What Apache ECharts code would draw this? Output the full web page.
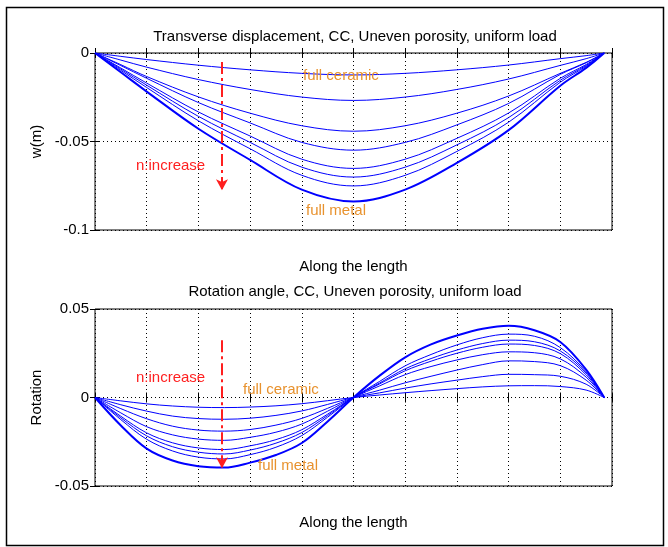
<!DOCTYPE html>
<html>
<head>
<meta charset="utf-8">
<script src="https://cdn.jsdelivr.net/npm/echarts@6/dist/echarts.min.js"></script>
<style>
  html, body { margin: 0; padding: 0; background: #fff; }
  #main { width: 668px; height: 547px; }
</style>
</head>
<body>
<div id="main"></div>
<script>
// transverse displacement w(m), 8 curves from full ceramic (w1) to full metal (w8)
const xW = [0, 0.05, 0.1, 0.2, 0.3, 0.4, 0.5, 0.6, 0.7, 0.8, 0.9, 0.95, 0.985];
const w1 = [0, -0.0019, -0.0037, -0.0069, -0.0095, -0.0115, -0.0124, -0.0115, -0.0095, -0.0068, -0.0032, -0.0015, 0];
const w2 = [0, -0.0040, -0.0080, -0.0150, -0.0206, -0.0249, -0.0268, -0.0249, -0.0206, -0.0147, -0.0070, -0.0032, 0];
const w3 = [0, -0.0066, -0.0133, -0.0248, -0.0340, -0.0411, -0.0442, -0.0411, -0.0340, -0.0243, -0.0115, -0.0053, 0];
const w4 = [0, -0.0071, -0.0143, -0.0280, -0.0395, -0.0505, -0.0549, -0.0505, -0.0406, -0.0285, -0.0121, -0.0055, 0];
const w5 = [0, -0.0085, -0.0170, -0.0333, -0.0469, -0.0600, -0.0652, -0.0600, -0.0482, -0.0339, -0.0143, -0.0065, 0];
const w6 = [0, -0.0091, -0.0182, -0.0358, -0.0505, -0.0645, -0.0701, -0.0645, -0.0519, -0.0365, -0.0154, -0.0070, 0];
const w7 = [0, -0.0098, -0.0195, -0.0383, -0.0541, -0.0691, -0.0751, -0.0691, -0.0556, -0.0391, -0.0165, -0.0075, 0];
const w8 = [0, -0.0109, -0.0218, -0.0428, -0.0604, -0.0772, -0.0839, -0.0772, -0.0621, -0.0436, -0.0185, -0.0084, 0];

// rotation angle, same 8 curves
const xR = [0, 0.05, 0.1, 0.15, 0.2, 0.25, 0.3, 0.35, 0.4, 0.45, 0.5,
            0.55, 0.6, 0.65, 0.7, 0.75, 0.8, 0.85, 0.9, 0.95, 0.985];
const r1 = [0, -0.0019, -0.0036, -0.0048, -0.0055, -0.0057, -0.0054, -0.0047, -0.0035, -0.0018, 0,
            0.0014, 0.0027, 0.0039, 0.0050, 0.0060, 0.0066, 0.0067, 0.0062, 0.0042, 0];
const r2 = [0, -0.0041, -0.0077, -0.0105, -0.0119, -0.0123, -0.0117, -0.0101, -0.0076, -0.0039, 0,
            0.0026, 0.0053, 0.0077, 0.0098, 0.0118, 0.0131, 0.0129, 0.0120, 0.0075, 0];
const r3 = [0, -0.0063, -0.0120, -0.0162, -0.0184, -0.0190, -0.0181, -0.0156, -0.0118, -0.0061, 0,
            0.0041, 0.0083, 0.0120, 0.0155, 0.0186, 0.0207, 0.0203, 0.0180, 0.0098, 0];
const r4 = [0, -0.0087, -0.0165, -0.0211, -0.0235, -0.0242, -0.0225, -0.0196, -0.0150, -0.0077, 0,
            0.0065, 0.0129, 0.0175, 0.0212, 0.0242, 0.0258, 0.0253, 0.0218, 0.0115, 0];
const r5 = [0, -0.0106, -0.0200, -0.0256, -0.0285, -0.0294, -0.0273, -0.0238, -0.0182, -0.0094, 0,
            0.0076, 0.0151, 0.0205, 0.0250, 0.0284, 0.0302, 0.0294, 0.0248, 0.0128, 0];
const r6 = [0, -0.0115, -0.0217, -0.0278, -0.0309, -0.0319, -0.0297, -0.0258, -0.0198, -0.0102, 0,
            0.0081, 0.0162, 0.0220, 0.0268, 0.0305, 0.0324, 0.0315, 0.0263, 0.0138, 0];
const r7 = [0, -0.0125, -0.0236, -0.0302, -0.0337, -0.0347, -0.0323, -0.0281, -0.0215, -0.0111, 0,
            0.0090, 0.0179, 0.0243, 0.0297, 0.0338, 0.0358, 0.0346, 0.0282, 0.0145, 0];
const r8 = [0, -0.0158, -0.0289, -0.0356, -0.0388, -0.0396, -0.0368, -0.0325, -0.0257, -0.0135, 0,
            0.0122, 0.0227, 0.0300, 0.0350, 0.0388, 0.0405, 0.0380, 0.0314, 0.0158, 0];

const wCurves = [w1, w2, w3, w4, w5, w6, w7, w8];
const rCurves = [r1, r2, r3, r4, r5, r6, r7, r8];

const font = 'Liberation Sans, Arial, sans-serif';
const orange = '#e8922e';
const red = '#ff1f1f';
const dotted = { color: '#000', width: 1, type: [1, 3] };

const chart = echarts.init(document.getElementById('main'));

function curveSeries(xs, curves, xi, yi) {
  return curves.map((ys, i) => ({
    type: 'line',
    xAxisIndex: xi,
    yAxisIndex: yi,
    data: xs.map((x, k) => [x, ys[k]]),
    showSymbol: false,
    smooth: 0.35,
    lineStyle: { color: '#0000ff', width: i === curves.length - 1 ? 2 : 1 },
    silent: true,
    z: 3
  }));
}

function arrow(xi, yi, from, to) {
  return {
    type: 'line',
    xAxisIndex: xi,
    yAxisIndex: yi,
    data: [],
    silent: true,
    markLine: {
      silent: true,
      animation: false,
      symbol: ['none', 'arrow'],
      symbolSize: [9, 11],
      label: { show: false },
      lineStyle: { color: red, width: 2, type: [12, 4, 3, 4] },
      data: [[{ coord: from }, { coord: to }]]
    },
    z: 5
  };
}

function mainX(gi) {
  return {
    type: 'value', gridIndex: gi, min: 0, max: 1, interval: 0.1,
    name: 'Along the length', nameLocation: 'middle', nameGap: 29,
    nameTextStyle: { color: '#000', fontSize: 15, fontFamily: font },
    axisLine: { show: false },
    axisTick: { show: true, inside: true, length: 5, lineStyle: { color: '#000' } },
    axisLabel: { show: false },
    splitLine: { show: true, lineStyle: dotted }
  };
}
function mirrorX(gi) {
  return {
    type: 'value', gridIndex: gi, position: 'top', min: 0, max: 1, interval: 0.1,
    axisLine: { show: false },
    axisTick: { show: true, inside: true, length: 5, lineStyle: { color: '#000' } },
    axisLabel: { show: false },
    splitLine: { show: false }
  };
}
function mainY(gi, min, max, name) {
  return {
    type: 'value', gridIndex: gi, min: min, max: max, interval: 0.05,
    name: name, nameLocation: 'middle', nameGap: 49,
    nameTextStyle: { color: '#000', fontSize: 15, fontFamily: font },
    axisLine: { show: false },
    axisTick: { show: true, inside: true, length: 5, lineStyle: { color: '#000' } },
    axisLabel: { color: '#000', fontSize: 15, fontFamily: font, margin: 6 },
    splitLine: { show: true, lineStyle: dotted }
  };
}
function mirrorY(gi, min, max) {
  return {
    type: 'value', gridIndex: gi, position: 'right', min: min, max: max, interval: 0.05,
    axisLine: { show: false },
    axisTick: { show: true, inside: true, length: 5, lineStyle: { color: '#000' } },
    axisLabel: { show: false },
    splitLine: { show: false }
  };
}

chart.setOption({
  animation: false,
  backgroundColor: '#fff',
  title: [
    { text: 'Transverse displacement, CC, Uneven porosity, uniform load', left: 350, top: 24, textAlign: 'center',
      textStyle: { color: '#000', fontSize: 15, fontWeight: 'normal', fontFamily: font } },
    { text: 'Rotation angle, CC, Uneven porosity, uniform load', left: 350, top: 279, textAlign: 'center',
      textStyle: { color: '#000', fontSize: 15, fontWeight: 'normal', fontFamily: font } }
  ],
  grid: [
    { left: 95, top: 53, width: 517, height: 177, show: true, borderColor: '#000', borderWidth: 1, backgroundColor: '#fff' },
    { left: 95, top: 309, width: 517, height: 177, show: true, borderColor: '#000', borderWidth: 1, backgroundColor: '#fff' }
  ],
  xAxis: [mainX(0), mirrorX(0), mainX(1), mirrorX(1)],
  yAxis: [mainY(0, -0.1, 0, 'w(m)'), mirrorY(0, -0.1, 0), mainY(1, -0.05, 0.05, 'Rotation'), mirrorY(1, -0.05, 0.05)],
  series: [
    ...curveSeries(xW, wCurves, 0, 0),
    ...curveSeries(xR, rCurves, 2, 2),
    arrow(0, 0, [0.2456, -0.0051], [0.2456, -0.0775]),
    arrow(2, 2, [0.2456, 0.0324], [0.2456, -0.0400])
  ],
  graphic: [
    { type: 'rect', shape: { x: 6.5, y: 7.5, width: 657, height: 538 }, style: { fill: null, stroke: '#000', lineWidth: 1.5 }, silent: true },
    { type: 'text', x: 136, y: 158, style: { text: 'n:increase', fill: red, font: '15px ' + font }, z: 10 },
    { type: 'text', x: 303, y: 68, style: { text: 'full ceramic', fill: orange, font: '15px ' + font }, z: 10 },
    { type: 'text', x: 306, y: 203, style: { text: 'full metal', fill: orange, font: '15px ' + font }, z: 10 },
    { type: 'text', x: 136, y: 370, style: { text: 'n:increase', fill: red, font: '15px ' + font }, z: 10 },
    { type: 'text', x: 243, y: 382, style: { text: 'full ceramic', fill: orange, font: '15px ' + font }, z: 10 },
    { type: 'text', x: 258, y: 458, style: { text: 'full metal', fill: orange, font: '15px ' + font }, z: 10 }
  ]
});
</script>
</body>
</html>
